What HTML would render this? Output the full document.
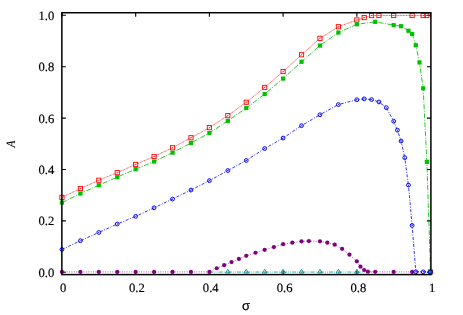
<!DOCTYPE html>
<html><head><meta charset="utf-8"><title>chart</title>
<style>
html,body{margin:0;padding:0;background:#fff;}
svg{display:block}
svg{will-change:transform;opacity:0.999}
.t{font-family:"Liberation Serif",serif;font-size:12.65px;fill:#000;stroke:#000;stroke-width:0.18px}
</style></head><body>
<svg width="463" height="315" viewBox="0 0 463 315">
<rect width="463" height="315" fill="#fff"/>
<path d="M61.85,272.30 h4 M430.9,272.30 h-4 M61.95,274.6 v-4 M61.95,12.73 v4" stroke="#000" stroke-width="1.1" fill="none"/>
<text transform="translate(54.35,276.80) skewX(0.2)" text-anchor="end" class="t">0.0</text>
<text transform="translate(63.10,291.5) skewX(0.2)" text-anchor="middle" class="t">0</text>
<path d="M61.85,220.90 h4 M430.9,220.90 h-4 M135.67,274.6 v-4 M135.67,12.73 v4" stroke="#000" stroke-width="1.1" fill="none"/>
<text transform="translate(54.35,225.40) skewX(0.2)" text-anchor="end" class="t">0.2</text>
<text transform="translate(136.92,291.5) skewX(0.2)" text-anchor="middle" class="t">0.2</text>
<path d="M61.85,169.50 h4 M430.9,169.50 h-4 M209.39,274.6 v-4 M209.39,12.73 v4" stroke="#000" stroke-width="1.1" fill="none"/>
<text transform="translate(54.35,174.00) skewX(0.2)" text-anchor="end" class="t">0.4</text>
<text transform="translate(210.74,291.5) skewX(0.2)" text-anchor="middle" class="t">0.4</text>
<path d="M61.85,118.10 h4 M430.9,118.10 h-4 M283.11,274.6 v-4 M283.11,12.73 v4" stroke="#000" stroke-width="1.1" fill="none"/>
<text transform="translate(54.35,122.60) skewX(0.2)" text-anchor="end" class="t">0.6</text>
<text transform="translate(284.56,291.5) skewX(0.2)" text-anchor="middle" class="t">0.6</text>
<path d="M61.85,66.70 h4 M430.9,66.70 h-4 M356.83,274.6 v-4 M356.83,12.73 v4" stroke="#000" stroke-width="1.1" fill="none"/>
<text transform="translate(54.35,71.20) skewX(0.2)" text-anchor="end" class="t">0.8</text>
<text transform="translate(358.38,291.5) skewX(0.2)" text-anchor="middle" class="t">0.8</text>
<path d="M61.85,15.30 h4 M430.9,15.30 h-4 M430.55,274.6 v-4 M430.55,12.73 v4" stroke="#000" stroke-width="1.1" fill="none"/>
<text transform="translate(54.35,19.80) skewX(0.2)" text-anchor="end" class="t">1.0</text>
<text transform="translate(432.20,291.5) skewX(0.2)" text-anchor="middle" class="t">1</text>
<polyline points="61.95,197.35 80.38,188.55 98.81,180.25 117.24,172.65 135.67,164.45 154.1,156.45 172.53,147.75 190.96,137.75 209.39,127.65 227.82,115.65 246.25,102.25 264.68,87.45 283.11,71.55 301.54,54.75 319.97,38.35 338.4,26.75 356.83,19.95 364.2,17.55 371.57,15.6 378.95,15.5 393.69,15.5 412.12,15.5 423.18,15.5 426.86,15.5" fill="none" stroke="#ff0000" stroke-width="0.7" stroke-dasharray="0.95 0.6"/>
<rect x="59.85" y="195.25" width="4.2" height="4.2" fill="none" stroke="#ff0000" stroke-width="0.9"/><circle cx="61.95" cy="197.35" r="0.5" fill="#ff0000"/>
<rect x="78.28" y="186.45" width="4.2" height="4.2" fill="none" stroke="#ff0000" stroke-width="0.9"/><circle cx="80.38" cy="188.55" r="0.5" fill="#ff0000"/>
<rect x="96.71" y="178.15" width="4.2" height="4.2" fill="none" stroke="#ff0000" stroke-width="0.9"/><circle cx="98.81" cy="180.25" r="0.5" fill="#ff0000"/>
<rect x="115.14" y="170.55" width="4.2" height="4.2" fill="none" stroke="#ff0000" stroke-width="0.9"/><circle cx="117.24" cy="172.65" r="0.5" fill="#ff0000"/>
<rect x="133.57" y="162.35" width="4.2" height="4.2" fill="none" stroke="#ff0000" stroke-width="0.9"/><circle cx="135.67" cy="164.45" r="0.5" fill="#ff0000"/>
<rect x="152.00" y="154.35" width="4.2" height="4.2" fill="none" stroke="#ff0000" stroke-width="0.9"/><circle cx="154.1" cy="156.45" r="0.5" fill="#ff0000"/>
<rect x="170.43" y="145.65" width="4.2" height="4.2" fill="none" stroke="#ff0000" stroke-width="0.9"/><circle cx="172.53" cy="147.75" r="0.5" fill="#ff0000"/>
<rect x="188.86" y="135.65" width="4.2" height="4.2" fill="none" stroke="#ff0000" stroke-width="0.9"/><circle cx="190.96" cy="137.75" r="0.5" fill="#ff0000"/>
<rect x="207.29" y="125.55" width="4.2" height="4.2" fill="none" stroke="#ff0000" stroke-width="0.9"/><circle cx="209.39" cy="127.65" r="0.5" fill="#ff0000"/>
<rect x="225.72" y="113.55" width="4.2" height="4.2" fill="none" stroke="#ff0000" stroke-width="0.9"/><circle cx="227.82" cy="115.65" r="0.5" fill="#ff0000"/>
<rect x="244.15" y="100.15" width="4.2" height="4.2" fill="none" stroke="#ff0000" stroke-width="0.9"/><circle cx="246.25" cy="102.25" r="0.5" fill="#ff0000"/>
<rect x="262.58" y="85.35" width="4.2" height="4.2" fill="none" stroke="#ff0000" stroke-width="0.9"/><circle cx="264.68" cy="87.45" r="0.5" fill="#ff0000"/>
<rect x="281.01" y="69.45" width="4.2" height="4.2" fill="none" stroke="#ff0000" stroke-width="0.9"/><circle cx="283.11" cy="71.55" r="0.5" fill="#ff0000"/>
<rect x="299.44" y="52.65" width="4.2" height="4.2" fill="none" stroke="#ff0000" stroke-width="0.9"/><circle cx="301.54" cy="54.75" r="0.5" fill="#ff0000"/>
<rect x="317.87" y="36.25" width="4.2" height="4.2" fill="none" stroke="#ff0000" stroke-width="0.9"/><circle cx="319.97" cy="38.35" r="0.5" fill="#ff0000"/>
<rect x="336.30" y="24.65" width="4.2" height="4.2" fill="none" stroke="#ff0000" stroke-width="0.9"/><circle cx="338.4" cy="26.75" r="0.5" fill="#ff0000"/>
<rect x="354.73" y="17.85" width="4.2" height="4.2" fill="none" stroke="#ff0000" stroke-width="0.9"/><circle cx="356.83" cy="19.95" r="0.5" fill="#ff0000"/>
<rect x="362.10" y="15.45" width="4.2" height="4.2" fill="none" stroke="#ff0000" stroke-width="0.9"/><circle cx="364.2" cy="17.55" r="0.5" fill="#ff0000"/>
<rect x="369.47" y="13.50" width="4.2" height="4.2" fill="none" stroke="#ff0000" stroke-width="0.9"/><circle cx="371.57" cy="15.6" r="0.5" fill="#ff0000"/>
<rect x="376.85" y="13.40" width="4.2" height="4.2" fill="none" stroke="#ff0000" stroke-width="0.9"/><circle cx="378.95" cy="15.5" r="0.5" fill="#ff0000"/>
<rect x="391.59" y="13.40" width="4.2" height="4.2" fill="none" stroke="#ff0000" stroke-width="0.9"/><circle cx="393.69" cy="15.5" r="0.5" fill="#ff0000"/>
<rect x="410.02" y="13.40" width="4.2" height="4.2" fill="none" stroke="#ff0000" stroke-width="0.9"/><circle cx="412.12" cy="15.5" r="0.5" fill="#ff0000"/>
<rect x="421.08" y="13.40" width="4.2" height="4.2" fill="none" stroke="#ff0000" stroke-width="0.9"/><circle cx="423.18" cy="15.5" r="0.5" fill="#ff0000"/>
<rect x="424.76" y="13.40" width="4.2" height="4.2" fill="none" stroke="#ff0000" stroke-width="0.9"/><circle cx="426.86" cy="15.5" r="0.5" fill="#ff0000"/>
<rect x="428.45" y="269.90" width="4.2" height="4.2" fill="none" stroke="#ff0000" stroke-width="0.9"/><circle cx="430.55" cy="272.0" r="0.5" fill="#ff0000"/>
<polyline points="209.39,272.05 227.82,272.05 246.25,272.05 264.68,272.05 283.11,272.05 301.54,272.05 319.97,272.05 338.4,272.05 356.83,272.05 375.26,272.05" fill="none" stroke="#008b8b" stroke-width="0.8" stroke-dasharray="4 1.2 0.8 1.2 0.8 1.2"/>
<path d="M225.52,273.05 L230.12,273.05 L227.82,269.25 Z" fill="none" stroke="#008b8b" stroke-width="0.85"/><circle cx="227.82" cy="272.05" r="0.5" fill="#008b8b"/>
<path d="M243.95,273.05 L248.55,273.05 L246.25,269.25 Z" fill="none" stroke="#008b8b" stroke-width="0.85"/><circle cx="246.25" cy="272.05" r="0.5" fill="#008b8b"/>
<path d="M262.38,273.05 L266.98,273.05 L264.68,269.25 Z" fill="none" stroke="#008b8b" stroke-width="0.85"/><circle cx="264.68" cy="272.05" r="0.5" fill="#008b8b"/>
<path d="M280.81,273.05 L285.41,273.05 L283.11,269.25 Z" fill="none" stroke="#008b8b" stroke-width="0.85"/><circle cx="283.11" cy="272.05" r="0.5" fill="#008b8b"/>
<path d="M299.24,273.05 L303.84,273.05 L301.54,269.25 Z" fill="none" stroke="#008b8b" stroke-width="0.85"/><circle cx="301.54" cy="272.05" r="0.5" fill="#008b8b"/>
<path d="M317.67,273.05 L322.27,273.05 L319.97,269.25 Z" fill="none" stroke="#008b8b" stroke-width="0.85"/><circle cx="319.97" cy="272.05" r="0.5" fill="#008b8b"/>
<path d="M336.10,273.05 L340.70,273.05 L338.40,269.25 Z" fill="none" stroke="#008b8b" stroke-width="0.85"/><circle cx="338.4" cy="272.05" r="0.5" fill="#008b8b"/>
<path d="M354.53,273.05 L359.13,273.05 L356.83,269.25 Z" fill="none" stroke="#008b8b" stroke-width="0.85"/><circle cx="356.83" cy="272.05" r="0.5" fill="#008b8b"/>
<polyline points="61.95,271.9 80.38,271.9 98.81,271.9 117.24,271.9 135.67,271.9 154.1,271.9 172.53,271.9 190.96,271.9 209.39,271.9 216.76,268.25 224.13,265.15 231.51,262.05 238.88,258.95 246.25,255.85 255.47,252.75 264.68,249.85 273.89,247.05 283.11,244.15 292.32,242.65 301.54,241.35 308.91,241.05 319.97,241.35 327.34,242.65 334.71,244.65 342.09,248.85 349.46,254.65 356.83,261.35 360.52,266.7 364.2,270.0 367.89,271.7 375.26,271.85 393.69,271.9 412.12,271.9 430.55,271.9" fill="none" stroke="#800080" stroke-width="0.8" stroke-dasharray="0.8 1.6"/>
<circle cx="61.95" cy="271.9" r="2.1" fill="#800080"/>
<circle cx="80.38" cy="271.9" r="2.1" fill="#800080"/>
<circle cx="98.81" cy="271.9" r="2.1" fill="#800080"/>
<circle cx="117.24" cy="271.9" r="2.1" fill="#800080"/>
<circle cx="135.67" cy="271.9" r="2.1" fill="#800080"/>
<circle cx="154.1" cy="271.9" r="2.1" fill="#800080"/>
<circle cx="172.53" cy="271.9" r="2.1" fill="#800080"/>
<circle cx="190.96" cy="271.9" r="2.1" fill="#800080"/>
<circle cx="209.39" cy="271.9" r="2.1" fill="#800080"/>
<circle cx="216.76" cy="268.25" r="2.1" fill="#800080"/>
<circle cx="224.13" cy="265.15" r="2.1" fill="#800080"/>
<circle cx="231.51" cy="262.05" r="2.1" fill="#800080"/>
<circle cx="238.88" cy="258.95" r="2.1" fill="#800080"/>
<circle cx="246.25" cy="255.85" r="2.1" fill="#800080"/>
<circle cx="255.47" cy="252.75" r="2.1" fill="#800080"/>
<circle cx="264.68" cy="249.85" r="2.1" fill="#800080"/>
<circle cx="273.89" cy="247.05" r="2.1" fill="#800080"/>
<circle cx="283.11" cy="244.15" r="2.1" fill="#800080"/>
<circle cx="292.32" cy="242.65" r="2.1" fill="#800080"/>
<circle cx="301.54" cy="241.35" r="2.1" fill="#800080"/>
<circle cx="308.91" cy="241.05" r="2.1" fill="#800080"/>
<circle cx="319.97" cy="241.35" r="2.1" fill="#800080"/>
<circle cx="327.34" cy="242.65" r="2.1" fill="#800080"/>
<circle cx="334.71" cy="244.65" r="2.1" fill="#800080"/>
<circle cx="342.09" cy="248.85" r="2.1" fill="#800080"/>
<circle cx="349.46" cy="254.65" r="2.1" fill="#800080"/>
<circle cx="356.83" cy="261.35" r="2.1" fill="#800080"/>
<circle cx="360.52" cy="266.7" r="2.1" fill="#800080"/>
<circle cx="364.2" cy="270.0" r="2.1" fill="#800080"/>
<circle cx="367.89" cy="271.7" r="2.1" fill="#800080"/>
<circle cx="375.26" cy="271.85" r="2.1" fill="#800080"/>
<circle cx="393.69" cy="271.9" r="2.1" fill="#800080"/>
<circle cx="412.12" cy="271.9" r="2.1" fill="#800080"/>
<circle cx="430.55" cy="271.9" r="2.1" fill="#800080"/>
<polyline points="61.95,202.55 80.38,193.55 98.81,185.25 117.24,177.15 135.67,169.15 154.1,161.55 172.53,152.65 190.96,142.95 209.39,133.05 227.82,120.9 246.25,108.05 264.68,94.05 283.11,78.55 301.54,61.75 319.97,45.55 338.4,32.55 356.83,24.25 375.26,21.85 393.69,25.15 401.06,26.2 408.43,30.75 412.12,33.95 415.81,45.25 419.49,62.45 423.18,88.35 426.86,161.85 430.55,272.25" fill="none" stroke="#00c000" stroke-width="0.85" stroke-dasharray="5 1.5 1 1.5"/>
<rect x="59.85" y="200.45" width="4.2" height="4.2" fill="#00c000"/>
<rect x="78.28" y="191.45" width="4.2" height="4.2" fill="#00c000"/>
<rect x="96.71" y="183.15" width="4.2" height="4.2" fill="#00c000"/>
<rect x="115.14" y="175.05" width="4.2" height="4.2" fill="#00c000"/>
<rect x="133.57" y="167.05" width="4.2" height="4.2" fill="#00c000"/>
<rect x="152.00" y="159.45" width="4.2" height="4.2" fill="#00c000"/>
<rect x="170.43" y="150.55" width="4.2" height="4.2" fill="#00c000"/>
<rect x="188.86" y="140.85" width="4.2" height="4.2" fill="#00c000"/>
<rect x="207.29" y="130.95" width="4.2" height="4.2" fill="#00c000"/>
<rect x="225.72" y="118.80" width="4.2" height="4.2" fill="#00c000"/>
<rect x="244.15" y="105.95" width="4.2" height="4.2" fill="#00c000"/>
<rect x="262.58" y="91.95" width="4.2" height="4.2" fill="#00c000"/>
<rect x="281.01" y="76.45" width="4.2" height="4.2" fill="#00c000"/>
<rect x="299.44" y="59.65" width="4.2" height="4.2" fill="#00c000"/>
<rect x="317.87" y="43.45" width="4.2" height="4.2" fill="#00c000"/>
<rect x="336.30" y="30.45" width="4.2" height="4.2" fill="#00c000"/>
<rect x="354.73" y="22.15" width="4.2" height="4.2" fill="#00c000"/>
<rect x="373.16" y="19.75" width="4.2" height="4.2" fill="#00c000"/>
<rect x="391.59" y="23.05" width="4.2" height="4.2" fill="#00c000"/>
<rect x="398.96" y="24.10" width="4.2" height="4.2" fill="#00c000"/>
<rect x="406.33" y="28.65" width="4.2" height="4.2" fill="#00c000"/>
<rect x="410.02" y="31.85" width="4.2" height="4.2" fill="#00c000"/>
<rect x="413.71" y="43.15" width="4.2" height="4.2" fill="#00c000"/>
<rect x="417.39" y="60.35" width="4.2" height="4.2" fill="#00c000"/>
<rect x="421.08" y="86.25" width="4.2" height="4.2" fill="#00c000"/>
<rect x="424.76" y="159.75" width="4.2" height="4.2" fill="#00c000"/>
<rect x="428.45" y="270.15" width="4.2" height="4.2" fill="#00c000"/>
<polyline points="61.95,249.45 80.38,240.75 98.81,232.45 117.24,224.05 135.67,216.35 154.1,207.85 172.53,199.05 190.96,190.05 209.39,180.65 227.82,170.55 246.25,160.45 264.68,148.55 283.11,138.05 301.54,125.65 319.97,114.75 338.4,104.55 356.83,99.75 364.2,98.85 371.57,99.55 378.95,101.95 386.32,107.65 393.69,121.25 397.38,130.15 401.06,141.05 404.75,157.65 408.43,185.15 412.12,225.45 415.81,271.85 423.18,271.85 430.55,271.85" fill="none" stroke="#0000ff" stroke-width="0.8" stroke-dasharray="3 1.5 1 1.5"/>
<circle cx="61.95" cy="249.45" r="1.9" fill="none" stroke="#0000ff" stroke-width="1.0"/><circle cx="61.95" cy="249.45" r="0.5" fill="#0000ff"/>
<circle cx="80.38" cy="240.75" r="1.9" fill="none" stroke="#0000ff" stroke-width="1.0"/><circle cx="80.38" cy="240.75" r="0.5" fill="#0000ff"/>
<circle cx="98.81" cy="232.45" r="1.9" fill="none" stroke="#0000ff" stroke-width="1.0"/><circle cx="98.81" cy="232.45" r="0.5" fill="#0000ff"/>
<circle cx="117.24" cy="224.05" r="1.9" fill="none" stroke="#0000ff" stroke-width="1.0"/><circle cx="117.24" cy="224.05" r="0.5" fill="#0000ff"/>
<circle cx="135.67" cy="216.35" r="1.9" fill="none" stroke="#0000ff" stroke-width="1.0"/><circle cx="135.67" cy="216.35" r="0.5" fill="#0000ff"/>
<circle cx="154.1" cy="207.85" r="1.9" fill="none" stroke="#0000ff" stroke-width="1.0"/><circle cx="154.1" cy="207.85" r="0.5" fill="#0000ff"/>
<circle cx="172.53" cy="199.05" r="1.9" fill="none" stroke="#0000ff" stroke-width="1.0"/><circle cx="172.53" cy="199.05" r="0.5" fill="#0000ff"/>
<circle cx="190.96" cy="190.05" r="1.9" fill="none" stroke="#0000ff" stroke-width="1.0"/><circle cx="190.96" cy="190.05" r="0.5" fill="#0000ff"/>
<circle cx="209.39" cy="180.65" r="1.9" fill="none" stroke="#0000ff" stroke-width="1.0"/><circle cx="209.39" cy="180.65" r="0.5" fill="#0000ff"/>
<circle cx="227.82" cy="170.55" r="1.9" fill="none" stroke="#0000ff" stroke-width="1.0"/><circle cx="227.82" cy="170.55" r="0.5" fill="#0000ff"/>
<circle cx="246.25" cy="160.45" r="1.9" fill="none" stroke="#0000ff" stroke-width="1.0"/><circle cx="246.25" cy="160.45" r="0.5" fill="#0000ff"/>
<circle cx="264.68" cy="148.55" r="1.9" fill="none" stroke="#0000ff" stroke-width="1.0"/><circle cx="264.68" cy="148.55" r="0.5" fill="#0000ff"/>
<circle cx="283.11" cy="138.05" r="1.9" fill="none" stroke="#0000ff" stroke-width="1.0"/><circle cx="283.11" cy="138.05" r="0.5" fill="#0000ff"/>
<circle cx="301.54" cy="125.65" r="1.9" fill="none" stroke="#0000ff" stroke-width="1.0"/><circle cx="301.54" cy="125.65" r="0.5" fill="#0000ff"/>
<circle cx="319.97" cy="114.75" r="1.9" fill="none" stroke="#0000ff" stroke-width="1.0"/><circle cx="319.97" cy="114.75" r="0.5" fill="#0000ff"/>
<circle cx="338.4" cy="104.55" r="1.9" fill="none" stroke="#0000ff" stroke-width="1.0"/><circle cx="338.4" cy="104.55" r="0.5" fill="#0000ff"/>
<circle cx="356.83" cy="99.75" r="1.9" fill="none" stroke="#0000ff" stroke-width="1.0"/><circle cx="356.83" cy="99.75" r="0.5" fill="#0000ff"/>
<circle cx="364.2" cy="98.85" r="1.9" fill="none" stroke="#0000ff" stroke-width="1.0"/><circle cx="364.2" cy="98.85" r="0.5" fill="#0000ff"/>
<circle cx="371.57" cy="99.55" r="1.9" fill="none" stroke="#0000ff" stroke-width="1.0"/><circle cx="371.57" cy="99.55" r="0.5" fill="#0000ff"/>
<circle cx="378.95" cy="101.95" r="1.9" fill="none" stroke="#0000ff" stroke-width="1.0"/><circle cx="378.95" cy="101.95" r="0.5" fill="#0000ff"/>
<circle cx="386.32" cy="107.65" r="1.9" fill="none" stroke="#0000ff" stroke-width="1.0"/><circle cx="386.32" cy="107.65" r="0.5" fill="#0000ff"/>
<circle cx="393.69" cy="121.25" r="1.9" fill="none" stroke="#0000ff" stroke-width="1.0"/><circle cx="393.69" cy="121.25" r="0.5" fill="#0000ff"/>
<circle cx="397.38" cy="130.15" r="1.9" fill="none" stroke="#0000ff" stroke-width="1.0"/><circle cx="397.38" cy="130.15" r="0.5" fill="#0000ff"/>
<circle cx="401.06" cy="141.05" r="1.9" fill="none" stroke="#0000ff" stroke-width="1.0"/><circle cx="401.06" cy="141.05" r="0.5" fill="#0000ff"/>
<circle cx="404.75" cy="157.65" r="1.9" fill="none" stroke="#0000ff" stroke-width="1.0"/><circle cx="404.75" cy="157.65" r="0.5" fill="#0000ff"/>
<circle cx="408.43" cy="185.15" r="1.9" fill="none" stroke="#0000ff" stroke-width="1.0"/><circle cx="408.43" cy="185.15" r="0.5" fill="#0000ff"/>
<circle cx="412.12" cy="225.45" r="1.9" fill="none" stroke="#0000ff" stroke-width="1.0"/><circle cx="412.12" cy="225.45" r="0.5" fill="#0000ff"/>
<circle cx="415.81" cy="271.85" r="1.9" fill="none" stroke="#0000ff" stroke-width="1.0"/><circle cx="415.81" cy="271.85" r="0.5" fill="#0000ff"/>
<circle cx="423.18" cy="271.85" r="1.9" fill="none" stroke="#0000ff" stroke-width="1.0"/><circle cx="423.18" cy="271.85" r="0.5" fill="#0000ff"/>
<circle cx="430.55" cy="271.85" r="1.9" fill="none" stroke="#0000ff" stroke-width="1.0"/><circle cx="430.55" cy="271.85" r="0.5" fill="#0000ff"/>
<rect x="61.85" y="12.73" width="369.05" height="261.87" fill="none" stroke="#000" stroke-width="1.5"/>
<rect x="428.75" y="270.5" width="3" height="3" fill="#00c000"/>
<circle cx="430.25" cy="272.0" r="1.9" fill="none" stroke="#0000ff" stroke-width="1.0"/><circle cx="430.25" cy="272.0" r="0.5" fill="#0000ff"/>
<text transform="translate(14.9,144.05) rotate(-90) scale(0.9,1) skewX(0.2)" text-anchor="middle" class="t" style="font-style:italic;stroke-width:0.08px">A</text>
<text transform="translate(242.1,310.4) skewX(0.2)" style="font-family:'Liberation Sans',sans-serif;font-size:13px;stroke:#000;stroke-width:0.2px">σ</text>
</svg>
</body></html>
